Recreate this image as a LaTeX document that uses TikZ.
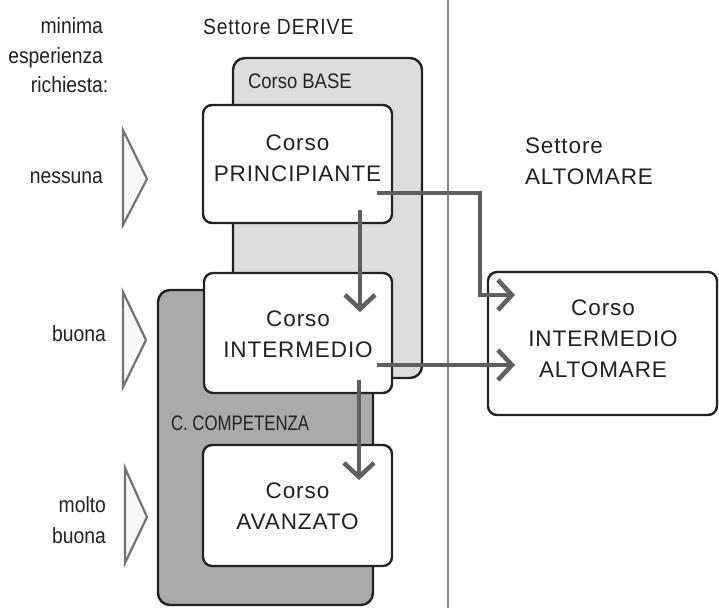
\documentclass[tikz,border=0pt]{standalone}
\usepackage{fontspec}
\setmainfont{Liberation Sans}
\newfontfamily\narrowfont[FakeStretch=0.88]{Liberation Sans}
\newfontfamily\narrowspacedfont[FakeStretch=0.88,LetterSpace=4]{Liberation Sans}
\newfontfamily\narrowerfont[FakeStretch=0.8]{Liberation Sans}
\newfontfamily\spacedfont[LetterSpace=4]{Liberation Sans}
\usetikzlibrary{arrows.meta}
\definecolor{boxline}{HTML}{222222}
\definecolor{arrowgray}{HTML}{5F5F5F}
\definecolor{lightfill}{HTML}{DDDDDD}
\definecolor{darkfill}{HTML}{AAAAAA}
\definecolor{sepline}{HTML}{8A8A8A}
\definecolor{textcol}{HTML}{222222}
\begin{document}
\begin{tikzpicture}[x=1pt,y=-1pt,
  every node/.style={inner sep=0pt,outer sep=0pt,text=textcol},
  lbl/.style={font=\narrowfont\fontsize{22}{29}\selectfont},
  boxtxt/.style={font=\spacedfont\fontsize{22.5}{31}\selectfont,align=center},
  course/.style={draw=boxline,line width=2.4pt,rounded corners=9pt,fill=white},
  group/.style={draw=boxline,line width=2.4pt,rounded corners=12pt},
  flow/.style={draw=arrowgray,line width=4.5pt,-{Straight Barb[length=14pt,width=30pt]}},
  level/.style={draw=black!55,line width=2.2pt,fill=black!3,line join=miter},
]
\useasboundingbox (0,0) rectangle (719,608);
% separator
\draw[sepline,line width=2pt] (448,0) -- (448,608);
% group boxes
\node[group,fill=lightfill,minimum width=189pt,minimum height=320pt] (base) at (327.5,218) {};
\node[group,fill=darkfill,minimum width=215pt,minimum height=315pt] (comp) at (265.5,447.5) {};
\node[lbl,font=\narrowfont\fontsize{21}{26}\selectfont,anchor=base west] (baselbl) at (248,88) {Corso BASE};
\node[lbl,font=\narrowerfont\fontsize{21}{26}\selectfont,anchor=base west] (complbl) at (171,430) {C. COMPETENZA};
% course boxes
\node[course,minimum width=189pt,minimum height=118pt] (prin) at (297.5,164) {};
\node[course,minimum width=188pt,minimum height=120pt] (inter) at (298,333) {};
\node[course,minimum width=189pt,minimum height=121pt] (avan) at (297.5,505.5) {};
\node[course,minimum width=229pt,minimum height=143pt] (alto) at (602.5,343.5) {};
\node[boxtxt] (printxt) at (297.5,158.5) {Corso\\PRINCIPIANTE};
\node[boxtxt] (intertxt) at (298,334) {Corso\\INTERMEDIO};
\node[boxtxt] (avantxt) at (297.5,506) {Corso\\AVANZATO};
\node[boxtxt] (altotxt) at (603,339) {Corso\\INTERMEDIO\\ALTOMARE};
% headings
\node[lbl,anchor=base east] (minima) at (103,33) {minima};
\node[lbl,anchor=base east] (esperienza) at (103,63) {esperienza};
\node[lbl,anchor=base east] (richiesta) at (103,92) {richiesta\rlap{:}};
\node[lbl,font=\narrowspacedfont\fontsize{22}{29}\selectfont,anchor=base west] (derive) at (203,34) {Settore DERIVE};
\node[boxtxt,align=left,anchor=west] (altomare) at (525,161) {Settore\\ALTOMARE};
% level labels
\node[lbl,anchor=base east] (nessuna) at (103,183) {nessuna};
\node[lbl,anchor=base east] (buona) at (106,341) {buona};
\node[lbl,anchor=base east] (molto) at (106,512) {molto};
\node[lbl,anchor=base east] (buona2) at (106,543) {buona};
% level triangles
\draw[level] (123,130) -- (147,179) -- (123,225) -- cycle;
\draw[level] (123,292) -- (146,340) -- (123,387) -- cycle;
\draw[level] (125,468) -- (147,517) -- (125,563) -- cycle;
% connector points
\coordinate (a1) at (377,193);
\coordinate (a1k) at (480,193);
\coordinate (a1e) at (515,295);
\coordinate (a2) at (360,210);
\coordinate (a2e) at (360,312);
\coordinate (a3) at (377,365);
\coordinate (a3e) at (515,365);
\coordinate (a4) at (359,380);
\coordinate (a4e) at (359,480);
% connectors
\draw[flow] (a1) -- (a1k) |- (a1e);
\draw[flow] (a2) -- (a2e);
\draw[flow] (a3) -- (a3e);
\draw[flow] (a4) -- (a4e);
\end{tikzpicture}
\end{document}
